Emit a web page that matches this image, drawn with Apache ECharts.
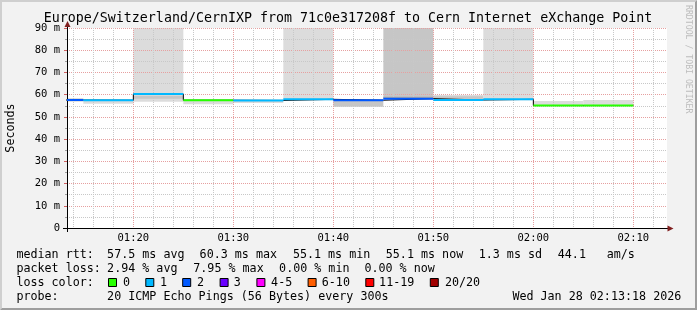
<!DOCTYPE html>
<html><head><meta charset="utf-8">
<script src="https://cdn.jsdelivr.net/npm/echarts@6/dist/echarts.min.js"></script>
<style>html,body{margin:0;padding:0;background:#f2f2f2}#c{width:697px;height:310px}</style>
</head><body><div id="c"></div>
<script>
// ---------------- data ----------------
const stepStart = ['01:10','01:15','01:20','01:25','01:30','01:35','01:40','01:45','01:50','01:55','02:00','02:05'];
const stepMinutes = 5;
const medianRtt = [57.6, 57.5, 60.3, 57.5, 57.4, 57.9, 57.5, 58.2, 57.6, 57.9, 55.1, 55.1];
const lossCount = [2, 1, 1, 0, 1, 1, 2, 2, 1, 1, 0, 0];
// smoke bands: step index, low, high, shade level (0 light .. 2 dark)
const smokeStep  = [0, 1, 2, 2, 3, 4, 5, 6, 7, 7, 8, 8, 9, 10, 11];
const smokeLow   = [56.8, 55.9, 56.8, 58.2, 55.7, 56.2, 57.5, 54.6, 58.5, 58.2, 58.0, 58.0, 57.5, 55.0, 55.0];
const smokeHigh  = [58.5, 57.5, 95, 59.5, 57.3, 57.2, 95, 57.4, 95, 59.1, 59.9, 59.3, 95, 57.2, 57.6];
const smokeShade = [0, 0, 0, 1, 0, 0, 0, 1, 1, 2, 0, 1, 0, 0, 0];
const xRange = ['01:13:22', '02:13:22'];
const yMax = 90, yStep = 10;
const lossLabels = ['0','1','2','3','4-5','6-10','11-19','20/20'];
const lossUpper  = [0, 1, 2, 3, 5, 10, 19, 20];
const titleText = 'Europe/Switzerland/CernIXP from 71c0e317208f to Cern Internet eXchange Point';
const legendRtt  = ['median rtt:', '57.5 ms avg', '60.3 ms max', '55.1 ms min', '55.1 ms now', '1.3 ms sd', '44.1', 'am/s'];
const legendLoss = ['packet loss:', '2.94 % avg', '7.95 % max', '0.00 % min', '0.00 % now'];
const legendProbe = ['probe:', '20 ICMP Echo Pings (56 Bytes) every 300s', 'Wed Jan 28 02:13:18 2026'];

// ---------------- styles / layout ----------------
const lossColors = ['#26ff00','#00b8ff','#0059ff','#6a00ff','#ff00ff','#ff5e00','#ff0000','#a10000'];
const shadeColors = ['#dcdcdc','#c6c6c6','#a8a8a8'];
const FONT = "'DejaVu Sans Mono', monospace";
const MINOR = '#c8c8c8', MAJOR = '#e6a0a0';
const PL = 67, PT = 28, PW = 600, PH = 200;

const toMin = s => { const p = s.split(':').map(Number); return p[0]*60 + p[1] + (p[2]||0)/60; };
const fmt = v => { const h = Math.floor(v/60), m = Math.round(v - h*60); return String(h).padStart(2,'0') + ':' + String(m).padStart(2,'0'); };
const bucket = n => lossUpper.findIndex(u => n <= u);

const xMin = toMin(xRange[0]), xMax = toMin(xRange[1]);
const pxPerMin = PW / (xMax - xMin);
const starts = stepStart.map(toMin);
const segData = starts.map((s, i) => [s, s + stepMinutes, medianRtt[i], bucket(lossCount[i])]);
const lineData = starts.map((s, i) => [s, medianRtt[i]]).concat([[starts[starts.length-1] + stepMinutes, medianRtt[medianRtt.length-1]]]);
const smokeData = smokeStep.map((k, i) => [starts[k], starts[k] + stepMinutes, smokeLow[i], smokeHigh[i], smokeShade[i]]);

function clipped(params, shape) {
  const cs = params.coordSys;
  return echarts.graphic.clipRectByRect(shape, {x: cs.x, y: cs.y, width: cs.width, height: cs.height});
}

const minorMin = 72, minorMax = 134, minorInt = 2;
const majorMin = 70, majorMax = 140, majorInt = 10;
const gridFor = (mn, mx) => ({ left: PL - (xMin - mn) * pxPerMin, top: PT, width: (mx - mn) * pxPerMin, height: PH, outerBoundsMode: 'none' });

const chart = echarts.init(document.getElementById('c'), null, {renderer: 'canvas', width: 697, height: 310});

const graphics = [];
graphics.push({type:'polygon', shape:{points:[[0,0],[697,0],[695,2],[2,2],[2,308],[0,310]]}, style:{fill:'#cfcfcf'}, z:1});
graphics.push({type:'polygon', shape:{points:[[697,0],[697,310],[0,310],[2,308],[695,308],[695,2]]}, style:{fill:'#9e9e9e'}, z:1});
graphics.push({type:'line', shape:{x1:63, y1:PT+PH+0.5, x2:PL, y2:PT+PH+0.5}, style:{stroke:'#000', lineWidth:1}, z:20});
graphics.push({type:'line', shape:{x1:PL+0.5, y1:PT+PH, x2:PL+0.5, y2:PT+PH+4}, style:{stroke:'#000', lineWidth:1}, z:20});
graphics.push({type:'line', shape:{x1:PL+0.5, y1:PT, x2:PL+0.5, y2:24}, style:{stroke:'#000', lineWidth:1}, z:20});
graphics.push({type:'polygon', shape:{points:[[PL+0.5,21],[PL-2.5,27],[PL+3.5,27]]}, style:{fill:'#801f1f'}, z:21});
graphics.push({type:'line', shape:{x1:PL+PW, y1:PT+PH+0.5, x2:669, y2:PT+PH+0.5}, style:{stroke:'#000', lineWidth:1}, z:20});
graphics.push({type:'polygon', shape:{points:[[673.5,PT+PH+0.5],[667.5,PT+PH-2.5],[667.5,PT+PH+3.5]]}, style:{fill:'#801f1f'}, z:21});
graphics.push({type:'text', x:688, y:5, rotation:-Math.PI/2, style:{text:'RRDTOOL / TOBI OETIKER', font:'8.2px ' + FONT, fill:'#bdbdbd', align:'left', verticalAlign:'middle'}, z:5});
const txt = (s, x, y) => graphics.push({type:'text', x:x, y:y, style:{text:s, font:'11.7px ' + FONT, fill:'#000', align:'left', verticalAlign:'middle'}, z:5});
const rttX = [16.4, 107.1, 199.6, 292.9, 385.8, 478.7, 557.8, 606.7];
legendRtt.forEach((s, i) => txt(s, rttX[i], 254.5));
const lossX = [16.4, 107.1, 193.3, 279.1, 364.4];
legendLoss.forEach((s, i) => txt(s, lossX[i], 268.5));
txt('loss color:', 16.4, 282.5);
const boxX = [108, 145.3, 182.2, 219.6, 256.4, 307.6, 365.3, 429.8];
const boxLabX = [123, 160, 196.9, 233.8, 271.1, 321.8, 379.1, 444.9];
lossLabels.forEach((s, i) => {
  graphics.push({type:'rect', shape:{x:boxX[i]+0.5, y:278.5, width:8, height:8}, style:{fill:lossColors[i], stroke:'#000', lineWidth:1}, z:5});
  txt(s, boxLabX[i], 282.5);
});
const probeX = [16.4, 107.1, 512.4];
legendProbe.forEach((s, i) => txt(s, probeX[i], 296.5));
// title
graphics.push({type:'text', x:348, y:19, style:{text:titleText, font:'13.3px ' + FONT, fill:'#000', align:'center', verticalAlign:'middle'}, z:6});

const option = {
  animation: false,
  backgroundColor: '#f2f2f2',
  grid: [
    { left: PL, top: PT, width: PW, height: PH, show: true, backgroundColor: '#ffffff', borderWidth: 0, outerBoundsMode: 'none' },
    gridFor(minorMin, minorMax),
    gridFor(majorMin, majorMax)
  ],
  xAxis: [
    { gridIndex: 0, type: 'value', min: xMin, max: xMax, z: 3,
      axisLine: { show: true, lineStyle: { color: '#000', width: 1 } }, axisTick: { show: false }, axisLabel: { show: false }, splitLine: { show: false } },
    { gridIndex: 1, type: 'value', min: minorMin, max: minorMax, interval: minorInt, z: 3,
      axisLine: { show: false }, axisTick: { show: false }, axisLabel: { show: false },
      splitLine: { show: true, showMinLine: false, showMaxLine: false, lineStyle: { color: MINOR, width: 1, type: [1, 1] } } },
    { gridIndex: 2, type: 'value', min: majorMin, max: majorMax, interval: majorInt, z: 3,
      axisLine: { show: false }, axisTick: { show: false },
      axisLabel: { show: true, showMinLabel: false, showMaxLabel: false, formatter: fmt, margin: 5, fontFamily: FONT, fontSize: 10.5, color: '#000' },
      splitLine: { show: true, showMinLine: false, showMaxLine: false, lineStyle: { color: MAJOR, width: 1, type: [1, 1] } } }
  ],
  yAxis: [
    { gridIndex: 0, type: 'value', min: 0, max: yMax, interval: yStep, z: 3,
      name: 'Seconds', nameLocation: 'middle', nameGap: 50, nameRotate: 90,
      nameTextStyle: { fontFamily: FONT, fontSize: 11.7, color: '#000' },
      axisLine: { show: true, lineStyle: { color: '#000', width: 1 } },
      axisTick: { show: true, length: 3, lineStyle: { color: '#d06060' } },
      minorTick: { show: true, splitNumber: 2, length: 2, lineStyle: { color: '#a0a0a0' } },
      axisLabel: { formatter: v => v === 0 ? '0' : v + ' m', margin: 7, fontFamily: FONT, fontSize: 10.5, color: '#000' },
      splitLine: { show: true, lineStyle: { color: MAJOR, width: 1, type: [1, 1] } },
      minorSplitLine: { show: true, lineStyle: { color: MINOR, width: 1, type: [1, 1] } } },
    { gridIndex: 1, type: 'value', min: 0, max: yMax, show: false },
    { gridIndex: 2, type: 'value', min: 0, max: yMax, show: false }
  ],
  series: [
    { type: 'custom', name: 'smoke', xAxisIndex: 0, yAxisIndex: 0, z: 1, silent: true,
      encode: { x: [0, 1], y: [2, 3] }, data: smokeData,
      renderItem: (params, api) => {
        const a = api.coord([api.value(0), api.value(3)]);
        const b = api.coord([api.value(1), api.value(2)]);
        const shape = clipped(params, { x: a[0], y: a[1], width: b[0] - a[0], height: b[1] - a[1] });
        return shape ? { type: 'rect', shape: shape, style: { fill: shadeColors[api.value(4)] } } : null;
      } },
    { type: 'line', name: 'median', xAxisIndex: 0, yAxisIndex: 0, z: 4, step: 'end', silent: true,
      showSymbol: false, symbol: 'none', data: lineData, lineStyle: { color: '#000', width: 1 } },
    { type: 'custom', name: 'loss', xAxisIndex: 0, yAxisIndex: 0, z: 5, silent: true,
      encode: { x: [0, 1], y: 2 }, data: segData,
      renderItem: (params, api) => {
        const a = api.coord([api.value(0), api.value(2)]);
        const b = api.coord([api.value(1), api.value(2)]);
        const shape = clipped(params, { x: a[0], y: a[1] - 1, width: b[0] - a[0], height: 2 });
        return shape ? { type: 'rect', shape: shape, style: { fill: lossColors[api.value(3)] } } : null;
      } }
  ],
  graphic: graphics
};
chart.setOption(option);
</script></body></html>
